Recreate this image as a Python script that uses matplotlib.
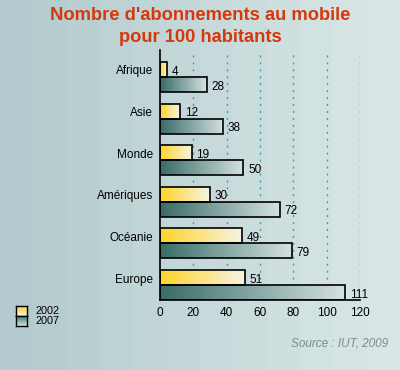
import numpy as np
import matplotlib
matplotlib.use("Agg")
import matplotlib.pyplot as plt
from matplotlib.colors import LinearSegmentedColormap
from matplotlib.patches import Rectangle

regions = ["Afrique", "Asie", "Monde", "Amériques", "Océanie", "Europe"]
subs_2002 = [4, 12, 19, 30, 49, 51]
subs_2007 = [28, 38, 50, 72, 79, 111]
years = ["2002", "2007"]
xticks = [0, 20, 40, 60, 80, 100, 120]

plt.rcParams['font.family'] = ['Liberation Sans', 'DejaVu Sans']

fig = plt.figure(figsize=(4, 3.7), dpi=100)

# background: banded horizontal gradient
bg_cmap = LinearSegmentedColormap.from_list("bg", ["#b3cbce", "#dae6e6"])
bg = fig.add_axes([0, 0, 1, 1], zorder=-10)
bg.imshow(np.linspace(0, 1, 12).reshape(1, -1), aspect='auto', cmap=bg_cmap,
          extent=[0, 1, 0, 1])
bg.set_axis_off()

cm_02 = LinearSegmentedColormap.from_list("g02", ["#ffd42a", "#f6f3e0"])
cm_07 = LinearSegmentedColormap.from_list("g07", ["#3a6d67", "#d2e0e0"])

ax = fig.add_axes([0.4, 0.189, 0.5, 0.676])
ax.patch.set_alpha(0)

h = 0.36
grad = np.linspace(0, 1, 40).reshape(1, -1)
for i, (a, b) in enumerate(zip(subs_2002, subs_2007)):
    for val, yc, cm in [(a, i - h / 2, cm_02), (b, i + h / 2, cm_07)]:
        ax.imshow(grad, aspect='auto', cmap=cm, interpolation='nearest',
                  extent=[0, val, yc + h / 2, yc - h / 2], zorder=2)
        ax.add_patch(Rectangle((0, yc - h / 2), val, h, fill=False,
                               ec='black', lw=1.2, zorder=3))
        ax.text(val + 2.8, yc + 0.05, str(val), va='center', ha='left',
                fontsize=8.5, zorder=4)

ax.set_xlim(0, 120)
ax.set_ylim(5.36, -0.65)
ax.set_xticks(xticks)
ax.set_yticks([i - 0.17 for i in range(len(regions))])
ax.set_yticklabels(regions)
ax.tick_params(length=0, labelsize=8.5, pad=5)
for x in xticks[1:]:
    ax.axvline(x, color='#3aa59e', lw=1, ls=(0, (1.5, 3.5)), zorder=1)
for s in ['top', 'right']:
    ax.spines[s].set_visible(False)
for s in ['left', 'bottom']:
    ax.spines[s].set_linewidth(1.2)

fig.text(0.5, 1 - 26.5 / 370, "Nombre d'abonnements au mobile\npour 100 habitants",
         ha='center', va='center', fontsize=13.2, fontweight='bold',
         color='#d4380d', linespacing=1.42)

# legend
for k, (lab, cm) in enumerate(zip(years, [cm_02, cm_07])):
    y0 = 1 - (306 + k * 10) / 370
    lax = fig.add_axes([16 / 400, y0 - 10 / 370, 11 / 400, 10 / 370])
    lax.imshow(np.linspace(0, 1, 10).reshape(-1, 1), aspect='auto', cmap=cm,
               extent=[0, 1, 0, 1])
    lax.set_xticks([])
    lax.set_yticks([])
    for sp in lax.spines.values():
        sp.set_linewidth(1)
    fig.text(35 / 400, y0 - 5 / 370, lab, va='center', ha='left', fontsize=7.8)

fig.text(388 / 400, 1 - 344 / 370, "Source : IUT, 2009", ha='right',
         va='center', fontsize=8.5, style='italic', color='#7a8e8e')

fig.savefig("out.png", dpi=100)
